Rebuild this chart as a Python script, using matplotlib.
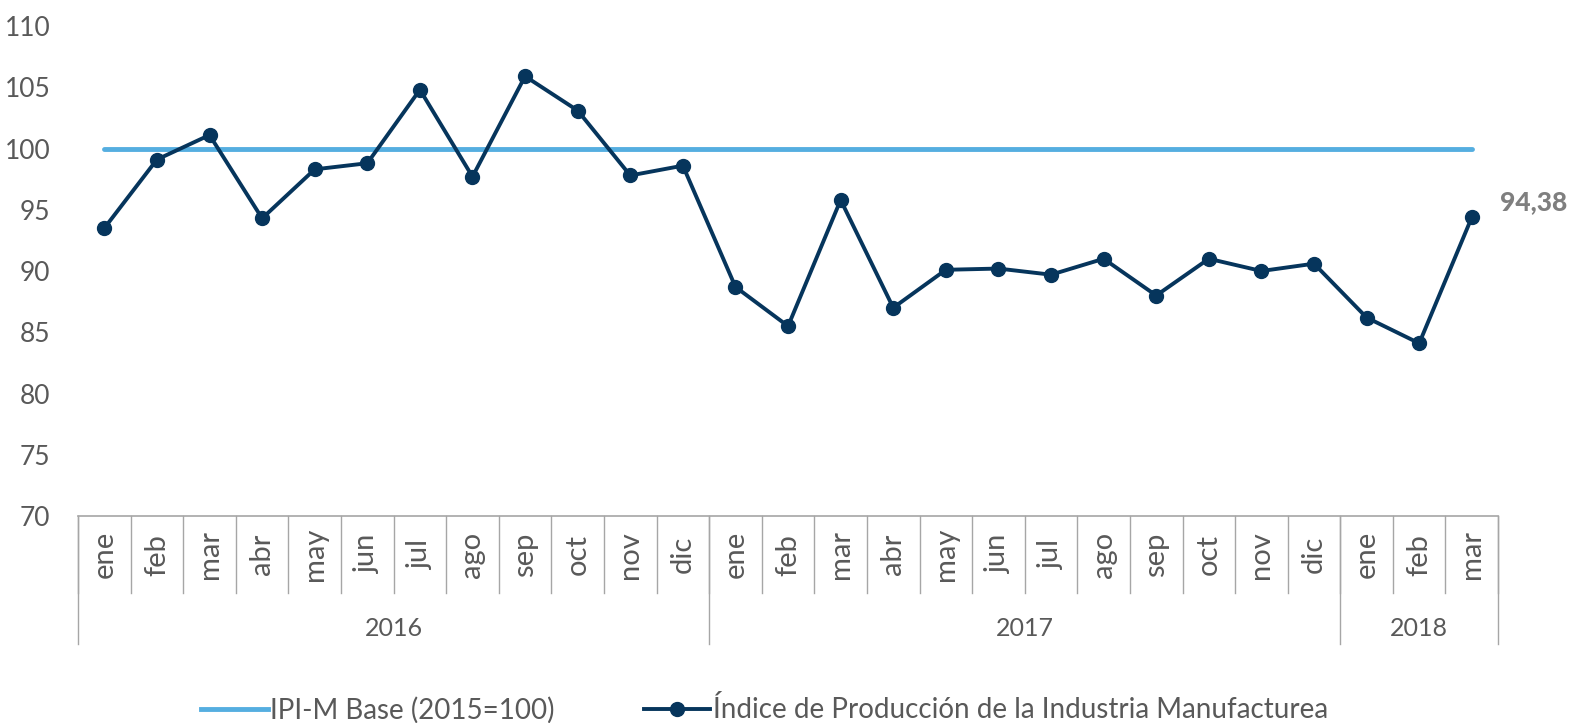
import matplotlib
matplotlib.use("Agg")
import matplotlib.pyplot as plt
from matplotlib.lines import Line2D

# --- DATA ---
months = ["ene", "feb", "mar", "abr", "may", "jun", "jul", "ago", "sep", "oct", "nov", "dic",
          "ene", "feb", "mar", "abr", "may", "jun", "jul", "ago", "sep", "oct", "nov", "dic",
          "ene", "feb", "mar"]
years = ["2016", "2017", "2018"]
months_per_year = [12, 12, 3]
ipi = [93.5, 99.1, 101.1, 94.3, 98.3, 98.8, 104.8, 97.7, 105.9, 103.1, 97.8, 98.6,
       88.7, 85.5, 95.8, 87.0, 90.1, 90.2, 89.7, 91.0, 88.0, 91.0, 90.0, 90.6,
       86.2, 84.1, 94.38]
base = [100] * len(ipi)

GRAY = "#595959"
LINE_GRAY = "#A6A6A6"
DARK = "#06355C"
LIGHT = "#55AEE0"

plt.rcParams["font.family"] = ["Lato", "DejaVu Sans"]

fig = plt.figure(figsize=(15.7, 7.23), dpi=100)
ax = fig.add_axes([0.0497, 0.2863, 0.9045, 0.6777])

x = list(range(len(ipi)))
ax.plot(x, base, color=LIGHT, lw=3.5, solid_capstyle="round", zorder=2)
ax.plot(x, ipi, color=DARK, lw=2.8, marker="o", ms=10, zorder=3)

ax.set_xlim(-0.5, len(ipi) - 0.5)
ax.set_ylim(70, 110)
ax.set_yticks(range(70, 111, 5))
ax.tick_params(axis="y", length=0, pad=20, labelsize=19, labelcolor=GRAY)
ax.set_xticks([])
for s in ["top", "right", "left"]:
    ax.spines[s].set_visible(False)
ax.spines["bottom"].set_color(LINE_GRAY)
ax.spines["bottom"].set_linewidth(1.2)

# last value label
ax.annotate("94,38", (x[-1], ipi[-1]), xytext=(20, 11), textcoords="offset points",
            fontsize=19, fontweight="black", color="#7F7F7F", ha="left", va="center")

# category axis: months and years
tr = ax.get_xaxis_transform()
month_bot = -0.157
year_bot = -0.261
for i, m in enumerate(months):
    ax.text(i, -0.079, m, rotation=90, ha="center", va="center", fontsize=21,
            color=GRAY, transform=tr)
for i in range(len(months) + 1):
    ax.plot([i - 0.5, i - 0.5], [0, month_bot], color=LINE_GRAY, lw=1,
            transform=tr, clip_on=False)

start = 0
for yr, n in zip(years, months_per_year):
    ax.plot([start - 0.5, start - 0.5], [0, year_bot], color=LINE_GRAY, lw=1,
            transform=tr, clip_on=False)
    ax.text(start + (n - 1) / 2, -0.229, yr, ha="center", va="center", fontsize=18,
            color=GRAY, transform=tr)
    start += n
ax.plot([start - 0.5, start - 0.5], [0, year_bot], color=LINE_GRAY, lw=1,
        transform=tr, clip_on=False)

handles = [
    Line2D([], [], color=LIGHT, lw=3.5),
    Line2D([], [], color=DARK, lw=2.8, marker="o", ms=10),
]
labels = ["IPI-M Base (2015=100)", "Índice de Producción de la Industria Manufacturea"]
fig.legend(handles, labels, loc="center", bbox_to_anchor=(0.487, 0.018), ncol=2,
           frameon=False, fontsize=20, labelcolor=GRAY, handlelength=2.4,
           handletextpad=0.1, columnspacing=3.2)

fig.savefig("out.png", dpi=100)
